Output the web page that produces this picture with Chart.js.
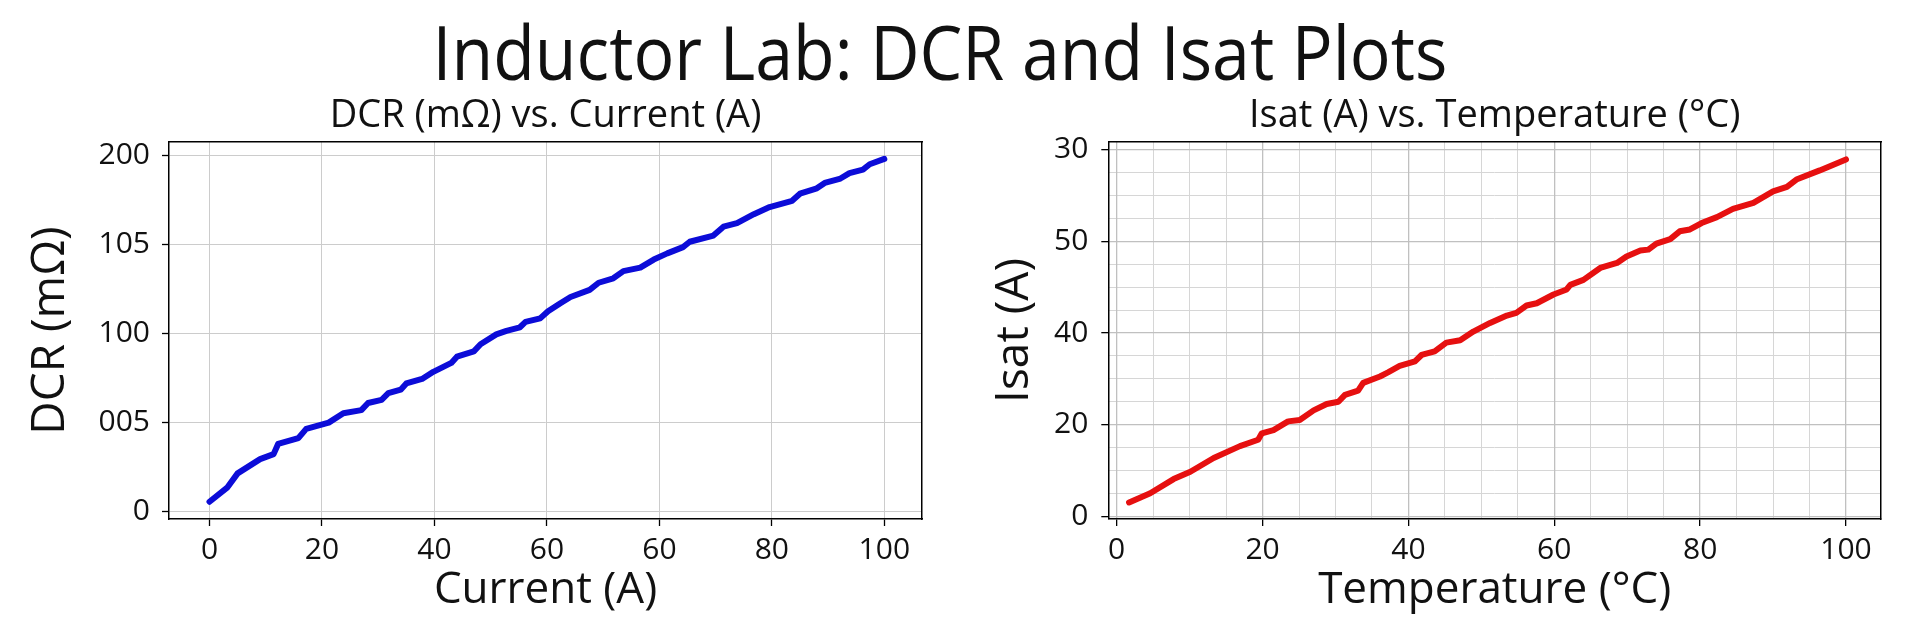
<!DOCTYPE html>
<html>
<head>
<meta charset="utf-8">
<script src="https://cdn.jsdelivr.net/npm/chart.js@4"></script>
<style>
    body { margin: 0; background: #fff; }
    #page { position: relative; width: 1920px; height: 640px; overflow: hidden; }
    #mainTitle {
        position: absolute; left: 940px; top: 19.6px;
        font: 68px 'Open Sans', 'Noto Sans', sans-serif; line-height: 68px;
        color: #111; white-space: nowrap;
        transform: translateX(-50%) scaleY(1.1); transform-origin: 50% 60.4px;
    }
    canvas { position: absolute; top: 0; }
    #dcrChart { left: 0; }
    #isatChart { left: 960px; }
</style>
</head>
<body>
<div id="page">
    <div id="mainTitle">Inductor Lab: DCR and Isat Plots</div>
    <canvas id="dcrChart" width="960" height="640"></canvas>
    <canvas id="isatChart" width="960" height="640"></canvas>
</div>
<script>
        // Données
        // DCR : position sur la grille de l'axe courant (0..6), valeur en mΩ
        const dcrX = [0, 0.16, 0.25, 0.45, 0.57, 0.61, 0.79, 0.86, 1.06, 1.19,
            1.35, 1.41, 1.53, 1.59, 1.70, 1.75, 1.89, 1.99, 2.15, 2.2,
            2.35, 2.41, 2.55, 2.64, 2.76, 2.81, 2.94, 3.01, 3.12, 3.21,
            3.38, 3.46, 3.59, 3.68, 3.83, 3.95, 4.07, 4.21, 4.27, 4.48,
            4.57, 4.69, 4.84, 4.98, 5.18, 5.25, 5.40, 5.47, 5.61, 5.69,
            5.81, 5.87, 6.0];
        const dcrValues = [5.6, 13.7, 21.5, 29.5, 32.3, 38, 41.3, 46.5, 50, 55.3,
            57, 61, 62.8, 66.5, 68.5, 72, 74.5, 78.5, 83.5, 87,
            90, 94, 99.5, 101.5, 103.5, 106.5, 108.5, 112.5, 117, 120.5,
            124.5, 128.5, 131, 135, 137, 141.5, 145, 148.5, 151.5, 155,
            160, 162, 167, 171, 174.5, 178.5, 181.5, 184.5, 187, 190,
            192, 195, 198];
        const dcrXTickLabels = ['0', '20', '40', '60', '60', '80', '100'];
        const dcrYTickLabels = ['0', '005', '100', '105', '200'];

        // Isat : température en °C, valeur en A
        const isatTemp = [1.7, 4.6, 7.8, 10.1, 13.3, 16.9, 19.4, 19.9, 21.5, 23.5,
            25.1, 27.0, 28.8, 30.4, 31.3, 33.1, 33.8, 36.1, 37.2, 38.8,
            40.9, 41.8, 43.6, 45.2, 47.1, 48.9, 51.2, 53.5, 54.8, 56.2,
            57.6, 59.9, 61.7, 62.2, 64.0, 66.3, 68.6, 69.9, 71.8, 72.9,
            74.0, 75.9, 77.2, 78.6, 80.2, 82.3, 84.5, 87.3, 90.0, 91.9,
            93.2, 96.4, 100];
        const isatValues = [3.0, 5.0, 8.1, 9.7, 12.7, 15.3, 16.7, 18.1, 18.8, 20.7,
            21.0, 23.1, 24.5, 25.0, 26.5, 27.4, 29.1, 30.5, 31.4, 32.8,
            33.8, 35.2, 36.0, 37.9, 38.4, 40.3, 42.2, 43.8, 44.4, 46.0,
            46.5, 48.4, 49.5, 50.5, 51.6, 54.2, 55.3, 56.7, 58.0, 58.2,
            59.5, 60.5, 62.2, 62.6, 64.0, 65.3, 67.1, 68.4, 70.9, 71.9,
            73.5, 75.5, 77.9];
        const isatXTickLabels = ['0', '20', '40', '60', '80', '100'];
        const isatYTickLabels = ['0', '20', '40', '50', '30'];

        const FONT = "'Open Sans', 'Noto Sans', sans-serif";
        Chart.defaults.font.family = FONT;
        Chart.defaults.color = '#111';

        function toPoints(xs, ys) {
            return xs.map((x, i) => ({ x: x, y: ys[i] }));
        }

        // Cadre noir (axes vides en haut et à droite)
        function frameAxis(position) {
            return {
                position: position,
                grid: { display: false, drawTicks: false },
                ticks: { display: false },
                border: { display: true, color: '#000', width: 1.5 },
                afterFit: s => { if (position === 'top') s.height = 0; else s.width = 0; }
            };
        }

        function tickGrid(extra) {
            return Object.assign({
                tickLength: 7,
                tickColor: '#000',
                tickWidth: 1.3,
                tickBorderDash: []
            }, extra);
        }

        const plugins = {
            legend: { display: false },
            tooltip: { enabled: false }
        };

        // Graphique DCR
        new Chart(document.getElementById('dcrChart'), {
            type: 'line',
            data: {
                datasets: [{
                    data: toPoints(dcrX, dcrValues),
                    borderColor: '#0c0cd8',
                    borderWidth: 6,
                    borderCapStyle: 'round',
                    borderJoinStyle: 'round',
                    pointRadius: 0,
                    tension: 0
                }]
            },
            options: {
                responsive: false,
                animation: false,
                layout: { padding: { left: 0, right: 38, top: 0, bottom: 0 } },
                plugins: Object.assign({
                    title: {
                        display: true,
                        text: 'DCR (mΩ) vs. Current (A)',
                        fullSize: false,
                        font: { size: 38, weight: 'normal' },
                        padding: { top: 93, bottom: 3.4 },
                        color: '#111'
                    }
                }, plugins),
                scales: {
                    x: {
                        type: 'linear',
                        min: -0.36, max: 6.335,
                        ticks: {
                            stepSize: 1, includeBounds: false, autoSkip: false, maxRotation: 0,
                            padding: 6, font: { size: 30 },
                            callback: v => dcrXTickLabels[Math.round(v)]
                        },
                        grid: tickGrid({ color: '#cccccc', lineWidth: 1, borderDash: [5, 4, 1.5, 4] }),
                        border: { display: true, color: '#000', width: 1.5 },
                        title: { display: true, text: 'Current (A)', font: { size: 44 }, padding: { top: 0, bottom: 23 } },
                        afterFit: s => { s.height = 121; }
                    },
                    y: {
                        type: 'linear',
                        min: -4.1, max: 207.5,
                        ticks: {
                            stepSize: 50, includeBounds: false, autoSkip: false,
                            padding: 12, font: { size: 30 },
                            callback: v => dcrYTickLabels[Math.round(v / 50)]
                        },
                        grid: tickGrid({ color: '#cccccc', lineWidth: 1, borderDash: [5, 4, 1.5, 4] }),
                        border: { display: true, color: '#000', width: 1.5 },
                        title: { display: true, text: 'DCR (mΩ)', font: { size: 46 }, padding: { top: 23, bottom: 0 } },
                        afterFit: s => { s.width = 169; }
                    },
                    xTop: frameAxis('top'),
                    yRight: frameAxis('right')
                }
            }
        });

        // Graphique Isat
        new Chart(document.getElementById('isatChart'), {
            type: 'line',
            data: {
                datasets: [{
                    data: toPoints(isatTemp, isatValues),
                    borderColor: '#e61010',
                    borderWidth: 6,
                    borderCapStyle: 'round',
                    borderJoinStyle: 'round',
                    pointRadius: 0,
                    tension: 0
                }]
            },
            options: {
                responsive: false,
                animation: false,
                layout: { padding: { left: 0, right: 39, top: 0, bottom: 0 } },
                plugins: Object.assign({
                    title: {
                        display: true,
                        text: 'Isat (A) vs. Temperature (°C)',
                        fullSize: false,
                        font: { size: 38, weight: 'normal' },
                        padding: { top: 93, bottom: 3.4 },
                        color: '#111'
                    }
                }, plugins),
                scales: {
                    // grille secondaire (pas de 5)
                    xMinor: {
                        type: 'linear', position: 'bottom',
                        min: -1.15, max: 104.8,
                        ticks: { display: false, stepSize: 5, includeBounds: false, autoSkip: false },
                        grid: {
                            drawTicks: false, lineWidth: 1, borderDash: [5, 4],
                            color: c => (c.tick && Math.round(c.tick.value) % 20 === 0) ? 'rgba(0,0,0,0)' : '#d6d6d6'
                        },
                        border: { display: false },
                        afterFit: s => { s.height = 0; }
                    },
                    yMinor: {
                        type: 'linear', position: 'left',
                        min: -0.61, max: 81.7,
                        ticks: { display: false, stepSize: 5, includeBounds: false, autoSkip: false },
                        grid: {
                            drawTicks: false, lineWidth: 1, borderDash: [5, 4],
                            color: c => (c.tick && Math.round(c.tick.value) % 20 === 0) ? 'rgba(0,0,0,0)' : '#d6d6d6'
                        },
                        border: { display: false },
                        afterFit: s => { s.width = 0; }
                    },
                    x: {
                        type: 'linear',
                        min: -1.15, max: 104.8,
                        ticks: {
                            stepSize: 20, includeBounds: false, autoSkip: false, maxRotation: 0,
                            padding: 6, font: { size: 30 },
                            callback: v => isatXTickLabels[Math.round(v / 20)]
                        },
                        grid: tickGrid({ color: '#c0c0c0', lineWidth: 1.3 }),
                        border: { display: true, color: '#000', width: 1.5 },
                        title: { display: true, text: 'Temperature (°C)', font: { size: 44 }, padding: { top: 0, bottom: 23 } },
                        afterFit: s => { s.height = 121; }
                    },
                    y: {
                        type: 'linear',
                        min: -0.61, max: 81.7,
                        ticks: {
                            stepSize: 20, includeBounds: false, autoSkip: false,
                            padding: 13, font: { size: 30 },
                            callback: v => isatYTickLabels[Math.round(v / 20)]
                        },
                        grid: tickGrid({ color: '#c0c0c0', lineWidth: 1.3 }),
                        border: { display: true, color: '#000', width: 1.5 },
                        title: { display: true, text: 'Isat (A)', font: { size: 46 }, padding: { top: 27, bottom: 0 } },
                        afterFit: s => { s.width = 148.3; }
                    },
                    xTop: frameAxis('top'),
                    yRight: frameAxis('right')
                }
            }
        });
</script>
</body>
</html>
